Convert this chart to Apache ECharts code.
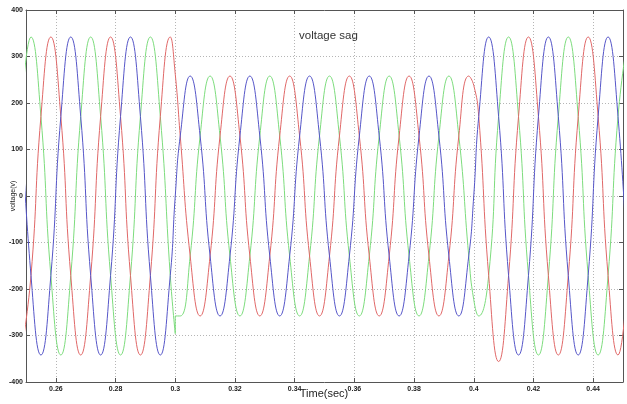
<!DOCTYPE html>
<html>
<head>
<meta charset="utf-8">
<title>voltage sag</title>
<script src="https://cdn.jsdelivr.net/npm/echarts@6/dist/echarts.min.js"></script>
<style>
    html, body { margin: 0; padding: 0; background: #fff; }
    #main { width: 627px; height: 404px; }
</style>
</head>
<body>
<div id="main"></div>
<script type="text/javascript">
    // sample times (s): peaks / half-peaks, plus the two switching instants
    var time = [
        0.24833, 0.25167, 0.255, 0.25833, 0.26167, 0.265, 0.26833, 0.27167,
        0.275, 0.27833, 0.28167, 0.285, 0.28833, 0.29167, 0.295, 0.29833,
        0.3, 0.3,
        0.30167, 0.305, 0.30833, 0.31167, 0.315, 0.31833, 0.32167, 0.325,
        0.32833, 0.33167, 0.335, 0.33833, 0.34167, 0.345, 0.34833, 0.35167,
        0.355, 0.35833, 0.36167, 0.365, 0.36833, 0.37167, 0.375, 0.37833,
        0.38167, 0.385, 0.38833, 0.39167, 0.395, 0.39833,
        0.4, 0.4,
        0.40167, 0.405, 0.40833, 0.41167, 0.415, 0.41833, 0.42167, 0.425,
        0.42833, 0.43167, 0.435, 0.43833, 0.44167, 0.445, 0.44833, 0.45167
    ];
    // phase voltages (V)
    var phaseBlue = [
        171, -171, -342, -171, 171, 342, 171, -171,
        -342, -171, 171, 342, 171, -171, -342, -171,
        0, 0,
        129, 258, 129, -129, -258, -129, 129, 258,
        129, -129, -258, -129, 129, 258, 129, -129,
        -258, -129, 129, 258, 129, -129, -258, -129,
        129, 258, 129, -129, -258, -129,
        0, 0,
        171, 342, 171, -171, -342, -171, 171, 342,
        171, -171, -342, -171, 171, 342, 171, -171
    ];
    var phaseRed = [
        -342, -171, 171, 342, 171, -171, -342, -171,
        171, 342, 171, -171, -342, -171, 171, 342,
        262, 262,
        129, -129, -258, -129, 129, 258, 129, -129,
        -258, -129, 129, 258, 129, -129, -258, -129,
        129, 258, 129, -129, -258, -129, 129, 258,
        129, -129, -258, -129, 129, 258,
        238, 238,
        171, -171, -356, -171, 171, 342, 171, -171,
        -342, -171, 171, 342, 171, -171, -342, -171
    ];
    var phaseGreen = [
        171, 342, 171, -171, -342, -171, 171, 342,
        171, -171, -342, -171, 171, 342, 171, -171,
        -296, -258,
        -258, -129, 129, 258, 129, -129, -258, -129,
        129, 258, 129, -129, -258, -129, 129, 258,
        129, -129, -258, -129, 129, 258, 129, -129,
        -258, -129, 129, 258, 129, -129,
        -223, -223,
        -258, -171, 171, 342, 171, -171, -342, -171,
        171, 342, 171, -171, -342, -171, 171, 342
    ];

    function pairs(vals) {
        return time.map(function (t, i) { return [t, vals[i]]; });
    }

    var chart = echarts.init(document.getElementById('main'));
    var dotted = {show: true, lineStyle: {color: '#b5b5b5', type: [1, 2], width: 1}};
    var frame = {show: true, onZero: false, lineStyle: {color: '#555', width: 1}};
    var tickIn = {show: true, inside: true, length: 4, lineStyle: {color: '#555'}};
    var labelFont = {fontSize: 7, fontWeight: 'bold', color: '#222', fontFamily: 'Liberation Sans'};

    function wave(name, color, vals) {
        return {
            name: name,
            type: 'line',
            smooth: true,
            symbol: 'none',
            color: color,
            lineStyle: {width: 1},
            data: pairs(vals)
        };
    }

    chart.setOption({
        animation: false,
        backgroundColor: '#fff',
        title: {
            text: 'voltage sag',
            left: 294,
            top: 25,
            textStyle: {fontSize: 11.5, fontWeight: 'normal', color: '#333', fontFamily: 'Liberation Sans'}
        },
        // axis titles
        graphic: [{
            type: 'text',
            x: 13,
            y: 196,
            rotation: Math.PI / 2,
            style: {
                text: 'voltage(v)',
                align: 'center',
                verticalAlign: 'middle',
                fontSize: 7,
                fill: '#222',
                fontFamily: 'Liberation Sans'
            }
        }, {
            type: 'text',
            x: 324,
            y: 394,
            style: {
                text: 'Time(sec)',
                align: 'center',
                verticalAlign: 'middle',
                fontSize: 11,
                fill: '#222',
                fontFamily: 'Liberation Sans'
            }
        }],
        grid: {left: 26, right: 4, top: 10, bottom: 22, containLabel: false, outerBoundsMode: 'none'},
        xAxis: [{
            type: 'value',
            min: 0.25,
            max: 0.45,
            splitNumber: 10,
            axisLine: frame,
            axisTick: tickIn,
            axisLabel: Object.assign({margin: 4, showMinLabel: false, showMaxLabel: false}, labelFont),
            splitLine: dotted
        }, {
            type: 'value',
            position: 'top',
            min: 0.25,
            max: 0.45,
            splitNumber: 10,
            axisLine: frame,
            axisTick: tickIn,
            axisLabel: {show: false},
            splitLine: {show: false}
        }],
        yAxis: [{
            type: 'value',
            min: -400,
            max: 400,
            interval: 100,
            axisLine: frame,
            axisTick: tickIn,
            axisLabel: Object.assign({margin: 3}, labelFont),
            splitLine: dotted
        }, {
            type: 'value',
            position: 'right',
            min: -400,
            max: 400,
            interval: 100,
            axisLine: frame,
            axisTick: tickIn,
            axisLabel: {show: false},
            splitLine: {show: false}
        }],
        series: [
            wave('Vc', '#7ddc7d', phaseGreen),
            wave('Vb', '#e06868', phaseRed),
            wave('Va', '#5656c8', phaseBlue)
        ]
    });
</script>
</body>
</html>
